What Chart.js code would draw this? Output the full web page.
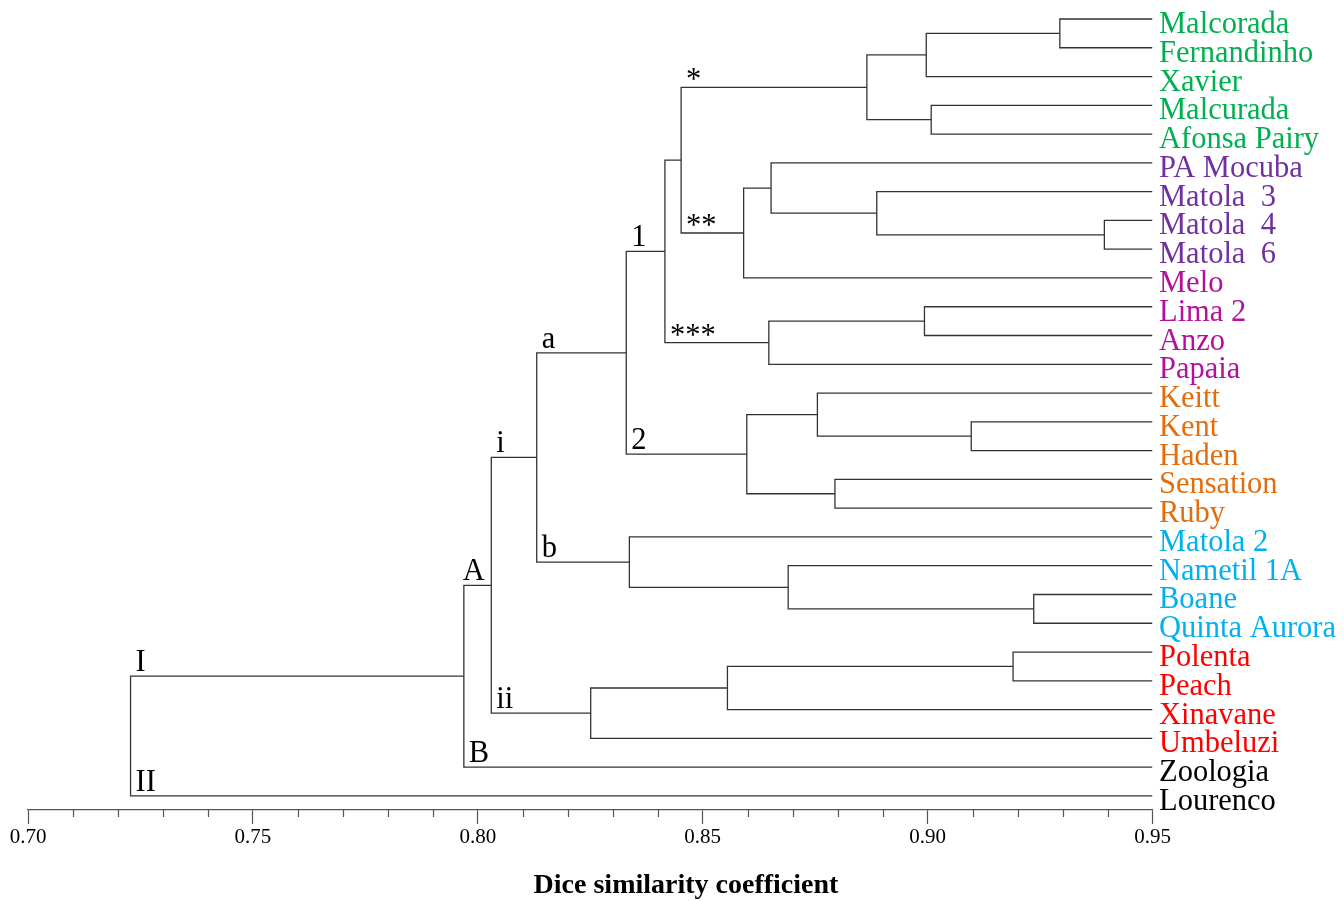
<!DOCTYPE html>
<html>
<head>
<meta charset="utf-8">
<script src="https://cdn.jsdelivr.net/npm/chart.js@4.4.1/dist/chart.umd.min.js"></script>
<style>
html, body { margin: 0; padding: 0; background: #fff; }
#wrap { width: 1344px; height: 901px; }
</style>
</head>
<body>
<div id="wrap"><canvas id="dendro"></canvas></div>
<script>
var leafNames = [
    "Malcorada", "Fernandinho", "Xavier", "Malcurada", "Afonsa Pairy",
    "PA Mocuba", "Matola  3", "Matola  4", "Matola  6",
    "Melo", "Lima 2", "Anzo", "Papaia",
    "Keitt", "Kent", "Haden", "Sensation", "Ruby",
    "Matola 2", "Nametil 1A", "Boane", "Quinta Aurora",
    "Polenta", "Peach", "Xinavane", "Umbeluzi",
    "Zoologia", "Lourenco"
];

var leafColors = [
    "#00b050", "#00b050", "#00b050", "#00b050", "#00b050",
    "#7030a0", "#7030a0", "#7030a0", "#7030a0",
    "#b4109e", "#b4109e", "#b4109e", "#b4109e",
    "#e46c0a", "#e46c0a", "#e46c0a", "#e46c0a", "#e46c0a",
    "#00b0f0", "#00b0f0", "#00b0f0", "#00b0f0",
    "#ff0000", "#ff0000", "#ff0000", "#ff0000",
    "#000000", "#000000"
];

// [cluster, cluster, similarity] - leaves are 0..27, new clusters numbered from 28
var merges = [
    [0, 1, 0.9294],    // 28
    [28, 2, 0.8997],   // 29
    [3, 4, 0.9008],    // 30
    [29, 30, 0.8865],  // 31 *
    [7, 8, 0.9393],    // 32
    [6, 32, 0.8887],   // 33
    [5, 33, 0.8652],   // 34
    [34, 9, 0.8591],   // 35 **
    [31, 35, 0.8452],  // 36
    [10, 11, 0.8993],  // 37
    [37, 12, 0.8647],  // 38 ***
    [36, 38, 0.8416],  // 39 1
    [14, 15, 0.9097],  // 40
    [13, 40, 0.8755],  // 41
    [16, 17, 0.8794],  // 42
    [41, 42, 0.8598],  // 43 2
    [39, 43, 0.8330],  // 44 a
    [20, 21, 0.9236],  // 45
    [19, 45, 0.8690],  // 46
    [18, 46, 0.8337],  // 47 b
    [44, 47, 0.8131],  // 48 i
    [22, 23, 0.9190],  // 49
    [49, 24, 0.8555],  // 50
    [50, 25, 0.8251],  // 51 ii
    [48, 51, 0.8030],  // 52 A
    [52, 26, 0.7969],  // 53 I / B
    [53, 27, 0.7228]   // 54
];

var labelClusters = [31, 35, 38, 39, 43, 44, 47, 48, 51, 52, 26, 53, 27];
var labelTexts    = ["*", "**", "***", "1", "2", "a", "b", "i", "ii", "A", "B", "I", "II"];

var tickValues = [0.70, 0.75, 0.80, 0.85, 0.90, 0.95];
var tickLabels = ["0.70", "0.75", "0.80", "0.85", "0.90", "0.95"];

var axisTitle = "Dice similarity coefficient";

// positions of every cluster (leaf row index / height)
var clusterY = leafNames.map(function (d, i) { return i; });
var clusterH = leafNames.map(function () { return 0.95; });
var parentH = [];
merges.forEach(function (m) {
    clusterY.push((clusterY[m[0]] + clusterY[m[1]]) / 2);
    clusterH.push(m[2]);
    parentH[m[0]] = m[2];
    parentH[m[1]] = m[2];
});

var datasets = merges.map(function (m) {
    var a = m[0], b = m[1];
    return {
        data: [
            { x: clusterH[a], y: clusterY[a] },
            { x: m[2], y: clusterY[a] },
            { x: m[2], y: clusterY[b] },
            { x: clusterH[b], y: clusterY[b] }
        ],
        borderColor: "#333",
        borderWidth: 1.3,
        pointRadius: 0,
        tension: 0,
        fill: false
    };
});

function isMajor(v) {
    return Math.abs(v * 20 - Math.round(v * 20)) < 1e-6;
}

var serif = "'Liberation Serif', 'Times New Roman', serif";

var dendroPlugin = {
    id: 'dendroLabels',
    afterDraw: function (chart) {
        var ctx = chart.ctx;
        var xs = chart.scales.x, ys = chart.scales.y;
        ctx.save();

        // minor ticks (shorter than major)
        ctx.strokeStyle = "#555";
        ctx.lineWidth = 1.2;
        xs.ticks.forEach(function (t) {
            if (isMajor(t.value)) return;
            var px = Math.round(xs.getPixelForValue(t.value)) + 0.5;
            ctx.beginPath();
            ctx.moveTo(px, xs.top);
            ctx.lineTo(px, xs.top + 7);
            ctx.stroke();
        });

        // leaf names
        ctx.font = "30.5px " + serif;
        ctx.textAlign = "left";
        ctx.textBaseline = "alphabetic";
        var lx = xs.getPixelForValue(0.95) + 6.5;
        leafNames.forEach(function (name, i) {
            ctx.fillStyle = leafColors[i];
            ctx.fillText(name, lx, ys.getPixelForValue(i) + 14);
        });

        // branch labels
        ctx.fillStyle = "#000";
        labelClusters.forEach(function (c, k) {
            var txt = labelTexts[k];
            var px = xs.getPixelForValue(parentH[c]) + (txt === "A" ? -1 : 5);
            var py = ys.getPixelForValue(clusterY[c]);
            ctx.fillText(txt, px, txt.charAt(0) === "*" ? py + 2 : py - 5);
        });

        // axis title
        ctx.font = "bold 28px " + serif;
        ctx.textAlign = "center";
        ctx.fillText(axisTitle, (xs.left + chart.width) / 2, xs.bottom - 8);

        ctx.restore();
    }
};

window.onload = function () {
    var ctx = document.getElementById('dendro').getContext('2d');
    window.theChart = new Chart(ctx, {
        type: 'line',
        data: { datasets: datasets },
        options: {
            responsive: true,
            maintainAspectRatio: false,
            animation: false,
            events: [],
            layout: { padding: { left: 28, right: 191.5, top: 2, bottom: 0 } },
            plugins: {
                legend: { display: false },
                tooltip: { enabled: false }
            },
            scales: {
                x: {
                    type: 'linear',
                    position: 'bottom',
                    min: 0.70,
                    max: 0.95,
                    afterFit: function (scale) { scale.height = 91; },
                    border: { display: true, color: "#555", width: 1.3 },
                    grid: {
                        drawOnChartArea: false,
                        tickLength: 14,
                        tickWidth: 1.2,
                        tickColor: function (c) {
                            return c.tick && isMajor(c.tick.value) ? "#555" : "rgba(0,0,0,0)";
                        }
                    },
                    ticks: {
                        stepSize: 0.01,
                        autoSkip: false,
                        maxRotation: 0,
                        padding: 1,
                        color: "#000",
                        font: { family: serif, size: 21 },
                        callback: function (value) {
                            for (var i = 0; i < tickValues.length; i++) {
                                if (Math.abs(tickValues[i] - value) < 1e-6) return tickLabels[i];
                            }
                            return "";
                        }
                    }
                },
                y: {
                    type: 'linear',
                    display: false,
                    reverse: true,
                    min: -0.59,
                    max: 27.49
                }
            }
        },
        plugins: [dendroPlugin]
    });
};
</script>
</body>
</html>
